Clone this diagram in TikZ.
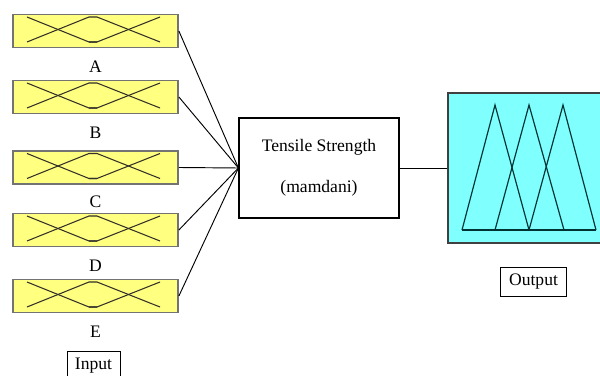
\documentclass[tikz,border=0pt]{standalone}
\usepackage{fontspec}
\setmainfont{Liberation Serif}
\usetikzlibrary{positioning}
\definecolor{mfyellow}{RGB}{255,255,128}
\definecolor{outcyan}{RGB}{128,255,255}
\tikzset{
  mfbox/.style={draw=gray!90!black, line width=1.5pt, fill=mfyellow, minimum width=4.95cm, minimum height=0.99cm, inner sep=0pt},
  mfline/.style={black!85!olive, line width=0.9pt},
  outline/.style={teal!40!black, line width=1pt},
  link/.style={black, line width=0.8pt},
  labelbox/.style={draw, line width=0.8pt, minimum height=0.87cm, inner sep=2pt}
}
\begin{document}
\begin{tikzpicture}[x=0.03cm, y=-0.03cm, font=\fontsize{15}{18}\selectfont]
  \clip (0,0) rectangle (600,376);
  % input membership boxes
  \node[mfbox] (boxA) at (95.5,31) {};
  \node[mfbox] (boxB) at (95.5,97) {};
  \node[mfbox] (boxC) at (95.5,167.5) {};
  \node[mfbox] (boxD) at (95.5,230) {};
  \node[mfbox] (boxE) at (95.5,296) {};
  \foreach \c in {31,97,167.5,230,296} {
    \draw[mfline] (27,{\c-14}) -- (89,{\c+11}) -- (97,{\c+11});
    \draw[mfline] (27,{\c+11}) -- (89,{\c-14}) -- (97,{\c-14}) -- (160,{\c+11});
    \draw[mfline] (89,{\c+11}) -- (97,{\c+11}) -- (160,{\c-14});
  }
  \node[below=0.24cm of boxA] (labA) {A};
  \node[below=0.24cm of boxB] (labB) {B};
  \node[below=0.2cm of boxC] (labC) {C};
  \node[below=0.24cm of boxD] (labD) {D};
  \node[below=0.26cm of boxE] (labE) {E};
  \node[labelbox, minimum width=1.59cm] (inlab) at (93.5,365.5) {Input};
  % rule block
  \node[draw, line width=1pt, minimum width=4.8cm, minimum height=3cm, align=center] (ts) at (319,168)
    {Tensile Strength\\[17pt](mamdani)};
  \draw[link] (boxA.east) -- (ts.west);
  \draw[link] (boxB.east) -- (ts.west);
  \draw[link] (boxC.east) -- (ts.west);
  \draw[link] (boxD.east) -- (ts.west);
  \draw[link] (boxE.east) -- (ts.west);
  % output membership box
  \node[draw=gray!50!black, line width=1.5pt, fill=outcyan, minimum width=4.62cm, minimum height=4.5cm] (outbox) at (525,168) {};
  \draw[link] (ts.east) -- (outbox.west);
  \draw[outline] (462,230) -- (495,105) -- (529,230);
  \draw[outline] (495,230) -- (529,105) -- (564,230);
  \draw[outline] (529,230) -- (563,105) -- (596,230);
  \draw[outline] (462,230) -- (596,230);
  \node[labelbox, minimum width=2cm] (outlab) at (533.5,281.5) {Output};
\end{tikzpicture}
\end{document}
